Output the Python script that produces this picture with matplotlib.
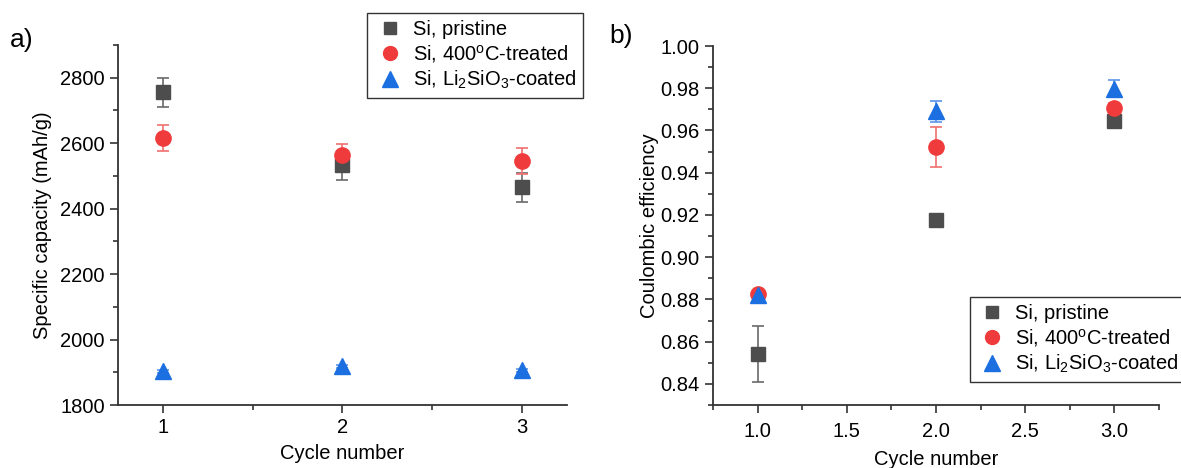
import matplotlib
matplotlib.use("Agg")
import matplotlib.pyplot as plt
from matplotlib.ticker import MultipleLocator, AutoMinorLocator, FormatStrFormatter
from matplotlib.lines import Line2D

plt.rcParams['font.family'] = ['Liberation Sans', 'DejaVu Sans']
plt.rcParams['mathtext.fontset'] = 'custom'
plt.rcParams['mathtext.rm'] = 'Liberation Sans'
plt.rcParams['mathtext.it'] = 'Liberation Sans'

cycles = [1, 2, 3]
labels = ["Si, pristine", "Si, 400$\\mathregular{^oC}$-treated", "Si, Li$\\mathregular{_2}$SiO$\\mathregular{_3}$-coated"]

cap_pristine = [2755, 2532, 2465]
cap_pristine_err = [45, 45, 45]
cap_treated = [2615, 2565, 2546]
cap_treated_err = [40, 32, 40]
cap_coated = [1903, 1918, 1906]
cap_coated_err = [5, 5, 5]

ce_pristine = [0.8543, 0.9177, 0.9643]
ce_pristine_err = [0.0133, 0.0008, 0.0010]
ce_treated = [0.8825, 0.9522, 0.9708]
ce_treated_err = [0.0010, 0.0095, 0.0020]
ce_coated = [0.8822, 0.9690, 0.9798]
ce_coated_err = [0.0020, 0.0050, 0.0040]

colors = ["#4d4d4d", "#ef3b3b", "#1b6fe0"]
ecolors = ["#6a6a6a", "#f07070", "#5b95ea"]
markers = ["s", "o", "^"]
msizes = [9.5, 11, 11.5]
leg_msizes = [9, 10, 11]

FS = 14.5

fig = plt.figure(figsize=(11.81, 4.68), dpi=100)
ax1 = fig.add_axes([0.0999, 0.1346, 0.3802, 0.7692])
ax2 = fig.add_axes([0.6037, 0.1346, 0.3777, 0.7671])

def draw(ax, ys, errs):
    for y, e, c, ec, m, ms in zip(ys, errs, colors, ecolors, markers, msizes):
        ax.errorbar(cycles, y, yerr=e, fmt=m, color=c, ecolor=ec, ms=ms,
                    mec=c, capsize=4, elinewidth=1.2, capthick=1.2, zorder=3)
    for s in ['top', 'right']:
        ax.spines[s].set_visible(False)
    for s in ['left', 'bottom']:
        ax.spines[s].set_linewidth(1.3)
        ax.spines[s].set_color('#333333')
    ax.tick_params(which='major', length=6, width=1.2, labelsize=FS, color='#333333')
    ax.tick_params(which='minor', length=3.5, width=1.2, color='#333333')
    ax.xaxis.set_minor_locator(AutoMinorLocator(2))
    ax.yaxis.set_minor_locator(AutoMinorLocator(2))

def handles():
    return [Line2D([], [], ls='none', marker=m, color=c, ms=ms, label=l)
            for m, c, ms, l in zip(markers, colors, leg_msizes, labels)]

draw(ax1, [cap_pristine, cap_treated, cap_coated], [cap_pristine_err, cap_treated_err, cap_coated_err])
ax1.set_xlim(0.75, 3.25)
ax1.set_ylim(1800, 2900)
ax1.xaxis.set_major_locator(MultipleLocator(1))
ax1.yaxis.set_major_locator(MultipleLocator(200))
ax1.set_xlabel("Cycle number", fontsize=FS, labelpad=5)
ax1.set_ylabel("Specific capacity (mAh/g)", fontsize=FS, labelpad=6)
leg1 = ax1.legend(handles=handles(), loc='upper right', bbox_to_anchor=(1.036, 1.089), borderaxespad=0,
                  fontsize=FS, frameon=True, fancybox=False, edgecolor='black',
                  handletextpad=0.4, borderpad=0.35, labelspacing=0.2, handlelength=1.5)
leg1.get_frame().set_linewidth(1.0)

draw(ax2, [ce_pristine, ce_treated, ce_coated], [ce_pristine_err, ce_treated_err, ce_coated_err])
ax2.set_xlim(0.75, 3.25)
ax2.set_ylim(0.83, 1.00)
ax2.xaxis.set_major_locator(MultipleLocator(0.5))
ax2.yaxis.set_major_locator(MultipleLocator(0.02))
ax2.xaxis.set_major_formatter(FormatStrFormatter('%.1f'))
ax2.yaxis.set_major_formatter(FormatStrFormatter('%.2f'))
ax2.tick_params(axis='x', which='major', pad=6)
ax2.set_xlabel("Cycle number", fontsize=FS, labelpad=7)
ax2.set_ylabel("Coulombic efficiency", fontsize=FS, labelpad=1)
leg2 = ax2.legend(handles=handles(), loc='lower left', bbox_to_anchor=(0.576, 0.064), borderaxespad=0,
                  fontsize=FS, frameon=True, fancybox=False, edgecolor='black',
                  handletextpad=0.4, borderpad=0.35, labelspacing=0.2, handlelength=1.5)
leg2.get_frame().set_linewidth(1.0)

fig.text(0.008, 0.915, "a)", fontsize=19, ha='left', va='center')
fig.text(0.516, 0.923, "b)", fontsize=19, ha='left', va='center')

fig.savefig("out.png", dpi=100)
